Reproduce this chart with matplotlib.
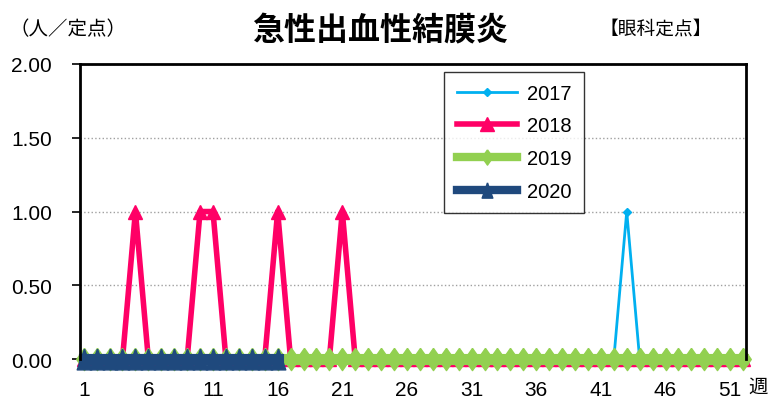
import numpy as np
import matplotlib.pyplot as plt

plt.rcParams['font.family'] = ['Liberation Sans', 'Noto Sans CJK JP']

weeks = np.arange(1, 53)

# reported cases per sentinel site, by week
y2017 = np.zeros(52)
y2017[43 - 1] = 1.0

y2018 = np.zeros(52)
for w in [5, 10, 11, 16, 21]:
    y2018[w - 1] = 1.0

y2019 = np.zeros(52)

weeks2020 = np.arange(1, 17)
y2020 = np.zeros(16)

# tall diamond and tall triangle like the spreadsheet markers
tall_diamond = [(0, 1), (0.7, 0), (0, -1), (-0.7, 0), (0, 1)]
tall_tri = [(0, 1), (0.7, -1), (-0.7, -1), (0, 1)]

fig = plt.figure(figsize=(7.75, 4.06), dpi=100)
ax = fig.add_axes([0.103, 0.113, 0.860, 0.727])

ax.plot(weeks, y2017, color='#00B0F0', lw=2, marker='D', ms=4,
        label='2017', clip_on=False, zorder=3)
ax.plot(weeks, y2018, color='#FF0066', lw=4, marker='^', ms=10,
        label='2018', clip_on=False, zorder=4)
ax.plot(weeks, y2019, color='#92D050', lw=8, marker=tall_diamond, ms=16,
        label='2019', clip_on=False, zorder=5)
ax.plot(weeks2020, y2020, color='#1F497D', lw=8, marker=tall_tri, ms=15,
        label='2020', clip_on=False, zorder=6)

ax.set_xlim(0.7, 52.25)
ax.set_ylim(0, 2)
ax.set_yticks([0, 0.5, 1.0, 1.5, 2.0])
ax.set_yticklabels(['0.00', '0.50', '1.00', '1.50', '2.00'], fontsize=15)
ax.set_xticks(np.arange(1, 52, 5))
ax.set_xticklabels([str(w) for w in range(1, 52, 5)], fontsize=15)
ax.tick_params(axis='x', length=0, pad=15)
ax.tick_params(axis='y', length=6, width=1.2, pad=14)
ax.yaxis.grid(True, color='#A0A0A0', ls=':', lw=1)
ax.set_axisbelow(True)
for name, s in ax.spines.items():
    s.set_linewidth(2)
    s.set_color('black')
    s.set_zorder(2 if name == 'bottom' else 7)

leg = ax.legend(loc='upper left', bbox_to_anchor=(0.532, 1.008), fontsize=14.5,
                frameon=True, fancybox=False, edgecolor='black',
                handlelength=3.0, labelspacing=0.68, borderpad=0.6,
                handletextpad=0.5)
leg.get_frame().set_linewidth(1)
leg.set_zorder(10)
for h in leg.get_lines():
    h.set_markersize(min(h.get_markersize(), 11))
    h.set_linewidth(min(h.get_linewidth(), 6))

fig.text(0.49, 0.922, '急性出血性結膜炎', ha='center', va='center',
         fontsize=23, fontweight='bold', family='Noto Sans CJK JP')
fig.text(0.012, 0.927, '（人／定点）', ha='left', va='center',
         fontsize=14, family='Noto Sans CJK JP')
fig.text(0.919, 0.927, '【眼科定点】', ha='right', va='center',
         fontsize=13.5, family='Noto Sans CJK JP')
fig.text(0.978, 0.045, '週', ha='center', va='center',
         fontsize=14, family='Noto Sans CJK JP')

fig.savefig('out.png', dpi=100)
